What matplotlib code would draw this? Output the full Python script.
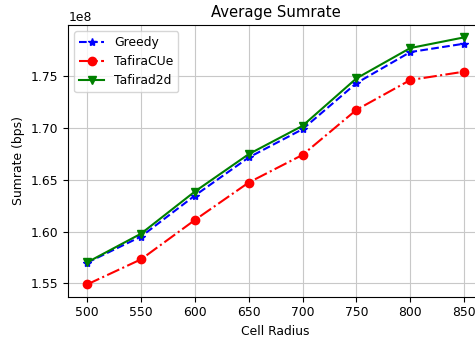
import numpy as np
import matplotlib.pyplot as plt

# Cell radius values
radius = [500, 550, 600, 650, 700, 750, 800, 850]

# Average sumrate per scheme (bps)
greedy = [1.570e8, 1.5952e8, 1.6348e8, 1.6716e8, 1.6989e8, 1.7434e8, 1.7734e8, 1.7815e8]
tafira_cue = [1.549e8, 1.5732e8, 1.6112e8, 1.6474e8, 1.6741e8, 1.7176e8, 1.7464e8, 1.7545e8]
tafirad2d = [1.5703e8, 1.598e8, 1.6387e8, 1.6748e8, 1.7022e8, 1.748e8, 1.7773e8, 1.7876e8]

plt.rcParams['font.size'] = 8.9

fig = plt.figure(figsize=(4.75, 3.38), dpi=100)
ax = fig.add_axes([0.1438, 0.122, 0.873, 0.804])

ax.plot(radius, greedy, 'b*--', label="Greedy")
ax.plot(radius, tafira_cue, 'ro-.', label="TafiraCUe")
ax.plot(radius, tafirad2d, 'gv-', label="Tafirad2d")

ax.set_xlabel("Cell Radius")
ax.set_ylabel("Sumrate (bps)")
ax.set_title("Average Sumrate")
ax.grid(color='#c8c8c8')
ax.legend(loc="upper left")

fig.savefig("out.png", dpi=100)
